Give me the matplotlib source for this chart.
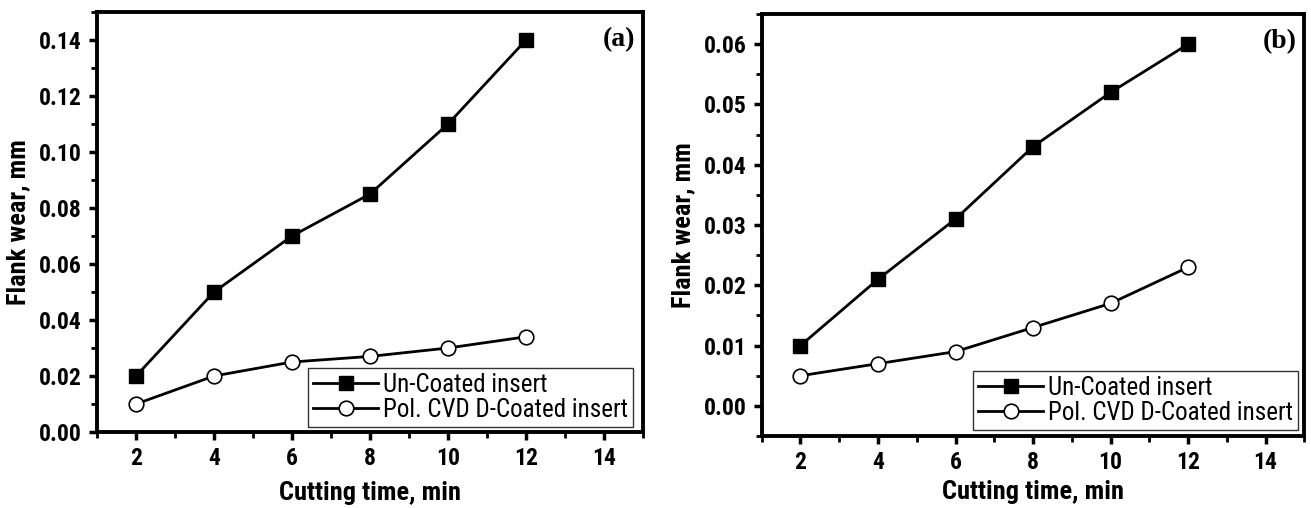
import matplotlib
matplotlib.use('Agg')
import matplotlib.pyplot as plt
from matplotlib.ticker import MultipleLocator, FormatStrFormatter
from matplotlib import font_manager

# cutting time, min
time = [2, 4, 6, 8, 10, 12]

# (a) flank wear, mm
wear_a_uncoated = [0.020, 0.050, 0.070, 0.085, 0.110, 0.140]
wear_a_coated = [0.010, 0.020, 0.025, 0.027, 0.030, 0.034]

# (b) flank wear, mm
wear_b_uncoated = [0.010, 0.021, 0.031, 0.043, 0.052, 0.060]
wear_b_coated = [0.005, 0.007, 0.009, 0.013, 0.017, 0.023]

lbl_uncoated = 'Un-Coated insert'
lbl_coated = 'Pol. CVD D-Coated insert'

# a narrow bold face is closest to the original, use it if there is one
names = {f.name for f in font_manager.fontManager.ttflist}
narrow = 'Liberation Sans'
for cand in ['Liberation Sans Narrow', 'DejaVu Sans Condensed', 'Roboto Condensed']:
    if cand in names:
        narrow = cand
        break
condensed = narrow != 'Liberation Sans'

plt.rcParams['font.family'] = ['Liberation Sans', 'DejaVu Sans']

fig = plt.figure(figsize=(13.11, 5.08), dpi=100)
ax1 = fig.add_axes([0.074, 0.1496, 0.4165, 0.8268])
ax2 = fig.add_axes([0.581, 0.1417, 0.414, 0.8307])

tick_fs = 17 if condensed else 15
lab_fs = 19 if condensed else 16
leg_fs = 18 if condensed else 15.5


def draw(ax, up, low, ylim, ystep, tag, leg_anchor, xpad):
    ax.plot(time, up, '-s', color='black', lw=2, ms=10, mfc='black', label=lbl_uncoated)
    ax.plot(time, low, '-o', color='black', lw=2, ms=10.5, mfc='white', mew=1.2, label=lbl_coated)
    ax.set_xlim(1, 15)
    ax.set_ylim(*ylim)
    ax.set_xticks(range(2, 15, 2))
    ax.xaxis.set_minor_locator(MultipleLocator(1))
    ax.yaxis.set_major_locator(MultipleLocator(ystep))
    ax.yaxis.set_minor_locator(MultipleLocator(ystep / 2))
    ax.yaxis.set_major_formatter(FormatStrFormatter('%.2f'))
    for s in ax.spines.values():
        s.set_linewidth(2.8)
    ax.tick_params(which='major', direction='out', length=6, width=2.5, pad=5)
    ax.tick_params(which='minor', direction='out', length=4, width=2)
    for t in ax.get_xticklabels() + ax.get_yticklabels():
        t.set_fontweight('bold')
        t.set_fontsize(tick_fs)
        t.set_family(narrow)
    ax.set_xlabel('Cutting time, min', fontsize=lab_fs, fontweight='bold',
                  family=narrow, labelpad=xpad)
    ax.set_ylabel('Flank wear, mm', fontsize=lab_fs, fontweight='bold',
                  family=narrow, labelpad=6)
    leg = ax.legend(loc='lower right', bbox_to_anchor=leg_anchor, frameon=True,
                    fancybox=False, handlelength=2.6, handletextpad=0.2,
                    borderpad=0.2, labelspacing=0.05, borderaxespad=0,
                    edgecolor='black', prop={'family': narrow, 'size': leg_fs})
    leg.get_frame().set_linewidth(1.0)
    ax.text(0.985, 0.965, tag, transform=ax.transAxes, ha='right', va='top',
            fontsize=20, fontweight='bold', family='Liberation Serif')


draw(ax1, wear_a_uncoated, wear_a_coated, (0, 0.15), 0.02, '(a)', (0.982, 0.012), 8)
draw(ax2, wear_b_uncoated, wear_b_coated, (-0.005, 0.065), 0.01, '(b)', (0.989, 0.014), 4)

fig.savefig('out.png', dpi=100)
